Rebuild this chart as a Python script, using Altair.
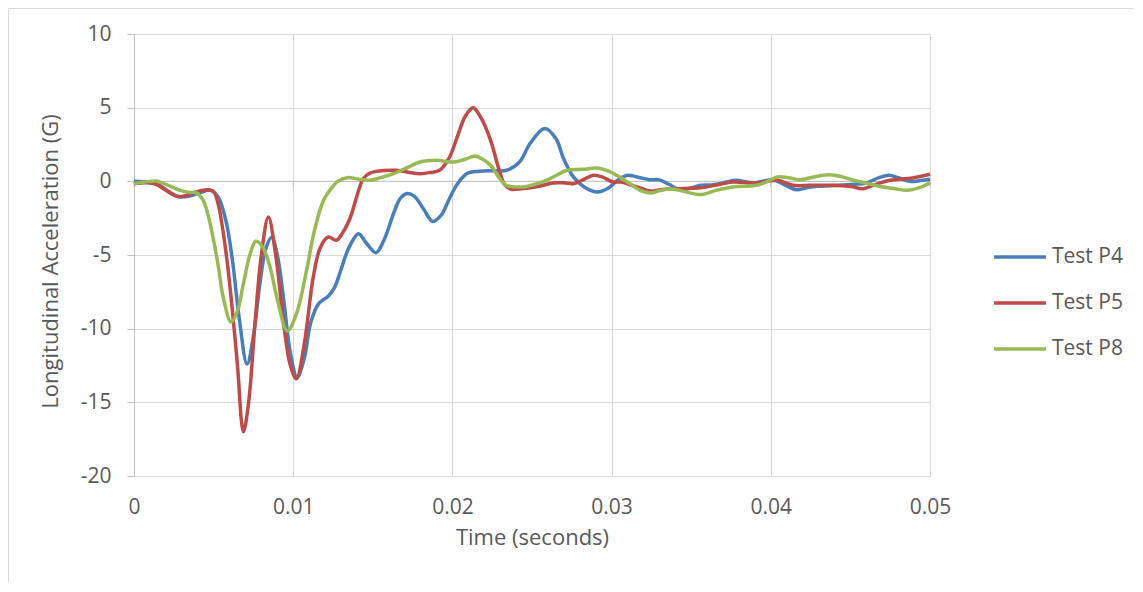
import altair as alt
import pandas as pd

# Time in milliseconds, acceleration in G
t_p4 = [0, 0.8, 1.5, 2.2, 2.8, 3.5, 4.2, 4.8, 5.3, 5.8, 6.2, 6.6, 7.1, 7.5, 7.9, 8.3, 8.65, 9.0, 9.4, 9.8,
        10.25, 10.7, 11.1, 11.6, 12.2, 12.6, 13.0, 13.5, 14.1, 14.6, 15.2, 15.7, 16.3, 16.7, 17.1, 17.6,
        18.2, 18.76, 19.3, 19.8, 20.3, 20.9, 21.7, 22.5, 23.4, 24.2, 24.9, 25.8, 26.5, 27.0, 27.6, 28.3,
        29.1, 29.8, 30.4, 31.0, 31.6, 32.4, 33.0, 33.6, 34.3, 35.0, 35.6, 36.4, 37.2, 37.8, 38.9, 40.1,
        40.8, 41.6, 42.2, 42.9, 44.3, 45.2, 46.0, 46.8, 47.4, 48.0, 48.7, 49.4, 50]
v_p4 = [0, -0.05, -0.2, -0.7, -1.05, -1.0, -0.75, -0.6, -1.1, -2.8, -5.5, -9.2, -12.4, -10.5, -7.0, -4.5,
        -3.8, -5.0, -8.0, -11.5, -13.3, -12.0, -9.6, -8.3, -7.8, -7.2, -6.0, -4.5, -3.55, -4.2, -4.84, -4.0,
        -2.2, -1.2, -0.84, -1.0, -1.9, -2.72, -2.3, -1.2, -0.2, 0.52, 0.68, 0.72, 0.75, 1.3, 2.6, 3.58, 2.9,
        1.5, 0.3, -0.4, -0.72, -0.45, 0.1, 0.41, 0.3, 0.11, 0.1, -0.2, -0.57, -0.45, -0.27, -0.23, -0.05,
        0.07, -0.11, 0.11, -0.2, -0.57, -0.45, -0.34, -0.27, -0.2, -0.11, 0.25, 0.41, 0.25, 0, 0.05, 0.14]

t_p5 = [0, 0.8, 1.4, 2.0, 2.7, 3.3, 3.9, 4.6, 5.0, 5.3, 5.8, 6.2, 6.5, 6.87, 7.2, 7.6, 8.0, 8.44, 8.9, 9.4,
        9.8, 10.2, 10.7, 11.26, 11.7, 12.2, 12.7, 13.1, 13.6, 14.0, 14.4, 14.8, 15.25, 16.5, 17.3, 18.0,
        18.6, 19.2, 19.8, 20.3, 20.8, 21.3, 21.8, 22.4, 22.9, 23.3, 23.7, 24.3, 24.9, 25.6, 26.3, 27.0,
        27.6, 28.2, 28.85, 29.4, 30.1, 30.6, 31.2, 31.8, 32.4, 33.2, 33.9, 35.6, 36.6, 37.6, 39.1, 40.4,
        41.4, 42.5, 43.9, 45.0, 45.8, 46.6, 47.5, 48.9, 50]
v_p5 = [-0.16, -0.1, -0.2, -0.6, -1.02, -0.95, -0.72, -0.57, -0.7, -1.6, -5.0, -9.0, -12.5, -17.0, -15.0,
        -9.65, -5.0, -2.42, -5.0, -9.65, -12.4, -13.4, -11.0, -6.5, -4.5, -3.78, -4.0, -3.5, -2.42, -1.0,
        0.18, 0.55, 0.68, 0.75, 0.6, 0.52, 0.6, 0.75, 1.6, 3.0, 4.4, 5.0, 4.3, 2.78, 0.9, -0.25, -0.54,
        -0.5, -0.43, -0.3, -0.11, -0.1, -0.16, 0.1, 0.41, 0.3, -0.05, -0.05, -0.25, -0.45, -0.66, -0.55,
        -0.5, -0.43, -0.25, -0.05, -0.11, 0.07, -0.27, -0.27, -0.27, -0.35, -0.5, -0.2, 0.07, 0.23, 0.48]

t_p8 = [0, 0.7, 1.4, 2.0, 2.9, 3.5, 3.9, 4.35, 4.7, 5.0, 5.3, 5.6, 6.1, 6.5, 6.87, 7.3, 7.66, 8.1, 8.54,
        9.0, 9.63, 10.2, 10.85, 11.3, 11.9, 12.3, 12.8, 13.4, 14.1, 14.8, 15.5, 16.3, 17.2, 17.96, 19.0,
        20.06, 20.8, 21.4, 21.9, 22.4, 22.9, 23.4, 24.45, 25.2, 25.9, 26.6, 27.2, 28.2, 29.1, 29.8, 30.5,
        31.2, 31.8, 32.4, 33.0, 33.7, 34.6, 35.6, 36.6, 37.6, 39.1, 39.8, 40.4, 41.1, 41.8, 42.7, 43.7,
        44.5, 45.2, 46.1, 47.05, 47.8, 48.55, 49.3, 50]
v_p8 = [-0.16, -0.05, 0.02, -0.2, -0.61, -0.75, -0.77, -1.3, -2.5, -4.0, -5.8, -7.85, -9.55, -8.8, -6.95,
        -4.9, -4.07, -4.5, -5.8, -8.0, -10.16, -9.0, -6.0, -3.5, -1.3, -0.61, 0, 0.25, 0.15, 0.07, 0.25,
        0.52, 0.95, 1.31, 1.43, 1.31, 1.5, 1.72, 1.5, 1.09, 0.3, -0.27, -0.38, -0.2, 0.07, 0.45, 0.75, 0.82,
        0.9, 0.7, 0.3, -0.2, -0.61, -0.79, -0.65, -0.5, -0.7, -0.9, -0.6, -0.38, -0.27, 0, 0.3, 0.25, 0.11,
        0.3, 0.45, 0.3, 0.07, -0.15, -0.38, -0.5, -0.61, -0.45, -0.09]

series_names = ["Test P4", "Test P5", "Test P8"]
series_colors = ["#4A7EBB", "#BE4B48", "#98B954"]
x_ticks = [0, 0.01, 0.02, 0.03, 0.04, 0.05]
y_ticks = [-20, -15, -10, -5, 0, 5, 10]

rows = []
for name, ts, vs in zip(series_names, [t_p4, t_p5, t_p8], [v_p4, v_p5, v_p8]):
    for i, (t, v) in enumerate(zip(ts, vs)):
        rows.append({"Time": t / 1000.0, "Accel": v, "Series": name, "order": i})
df = pd.DataFrame(rows)

FONT = "Open Sans"
TXT = "#595959"

x_enc = alt.X(
    "Time:Q",
    scale=alt.Scale(domain=[0, 0.05], nice=False, zero=False),
    axis=alt.Axis(
        values=x_ticks, format="~g", title="Time (seconds)",
        grid=True, gridColor="#d9d9d9", gridWidth=1,
        domain=False, ticks=False, labelFlush=False,
        labelPadding=20, labelFontSize=21, labelColor=TXT, labelFont=FONT,
        titleFontSize=22, titleColor=TXT, titleFont=FONT, titleFontWeight="normal",
        titleY=51, titleBaseline="top",
    ),
)
y_enc = alt.Y(
    "Accel:Q",
    scale=alt.Scale(domain=[-20, 10], nice=False, zero=False),
    axis=alt.Axis(
        values=y_ticks, title="Longitudinal Acceleration (G)",
        labelExpr="'' + datum.value", labelFlush=False,
        grid=True, gridColor="#d9d9d9", gridWidth=1,
        domainColor="#bfbfbf", tickColor="#bfbfbf", tickSize=7,
        labelPadding=16, labelFontSize=21, labelColor=TXT, labelFont=FONT,
        titleFontSize=22, titleColor=TXT, titleFont=FONT, titleFontWeight="normal",
        titleX=-84, titleY=227, titleAlign="center", titleBaseline="middle", titleAngle=270,
    ),
)

lines = alt.Chart(df).mark_line(interpolate="catmull-rom", strokeWidth=3.5).encode(
    x=x_enc,
    y=y_enc,
    order="order:Q",
    color=alt.Color(
        "Series:N",
        scale=alt.Scale(domain=series_names, range=series_colors),
        legend=alt.Legend(
            title=None, orient="none", legendX=858, legendY=195,
            symbolType="stroke", symbolSize=2704, symbolStrokeWidth=3.5,
            labelFontSize=21, labelColor=TXT, labelFont=FONT, labelOffset=4,
            rowPadding=8,
        ),
    ),
)

zero_rule = alt.Chart(pd.DataFrame({"Accel": [0]})).mark_rule(color="#bfbfbf", strokeWidth=1).encode(
    y=alt.Y("Accel:Q")
)
zero_ticks = alt.Chart(pd.DataFrame({"Time": x_ticks})).mark_rule(color="#bfbfbf", strokeWidth=1).encode(
    x=alt.X("Time:Q"), y=alt.datum(0), y2=alt.datum(-0.4)
)
frame = alt.Chart(pd.DataFrame({"a": [0]})).mark_rect(
    filled=False, stroke="#d9d9d9", strokeWidth=1
).encode(
    x=alt.value(-125.5), x2=alt.value(1150), y=alt.value(-25.5), y2=alt.value(700)
)

chart = alt.layer(frame, zero_rule, zero_ticks, lines).properties(
    width=796, height=442,
    autosize=alt.AutoSizeParams(type="none"),
    padding={"left": 126, "top": 26, "right": 203, "bottom": 106},
    background="white",
).configure_view(stroke=None)

chart.save("out.html", embed_options={"renderer": "svg", "actions": False})
